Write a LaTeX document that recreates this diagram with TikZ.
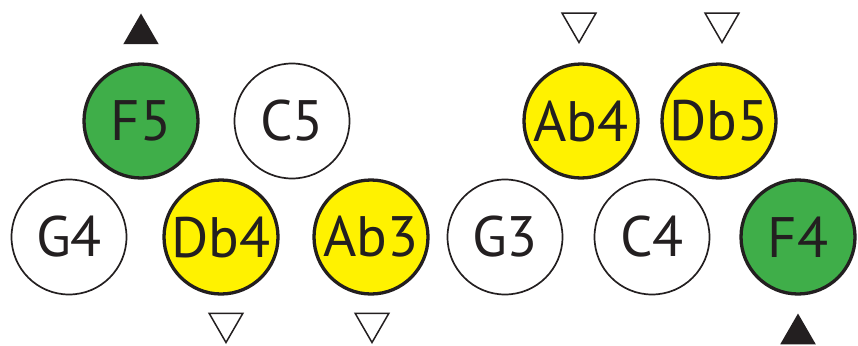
\documentclass[tikz,border=0pt]{standalone}
\usepackage{fontspec}
\setmainfont{PT Sans}
\usetikzlibrary{shapes.geometric}
\definecolor{ink}{HTML}{231F20}
\definecolor{notegreen}{HTML}{3FAE49}
\definecolor{noteyellow}{HTML}{FFF200}
\tikzset{
  note/.style={circle, draw=ink, line width=1.7pt, minimum size=115pt, inner sep=0pt,
    text=ink, font=\fontsize{57}{66}\selectfont},
  held/.style={note, line width=3.3pt, minimum size=114pt, fill=notegreen},
  moved/.style={note, line width=3.3pt, minimum size=114pt, fill=noteyellow},
  upmark/.style={regular polygon, regular polygon sides=3, minimum size=41pt, inner sep=0pt, fill=ink},
  downmark/.style={regular polygon, regular polygon sides=3, shape border rotate=180,
    minimum size=39pt, inner sep=0pt, draw=ink, line width=1.5pt}
}
\begin{document}
\begin{tikzpicture}[x=1pt, y=-1pt]
\useasboundingbox (0,0) rectangle (858,345);

% Define nodes
\node[held] (F5) at (141, 121) {F5};
\node[note] (C5) at (292, 121) {C5};
\node[note] (G4) at (69, 237) {G4};
\node[moved] (Db4) at (221, 237) {Db4};
\node[moved] (Ab3) at (371, 237) {Ab3};

\node[moved] (Ab4) at (581, 121) {Ab4};
\node[moved] (Db5) at (719, 121) {Db5};
\node[note] (G3) at (505, 237) {G3};
\node[note] (C4) at (652, 237) {C4};
\node[held] (F4) at (798, 237) {F4};

% Marks
\node[upmark] (upF5) at (141, 34) {};
\node[downmark] (downDb4) at (226, 323) {};
\node[downmark] (downAb3) at (372, 323) {};
\node[downmark] (downAb4) at (579, 23) {};
\node[downmark] (downDb5) at (722, 23) {};
\node[upmark] (upF4) at (798, 334) {};
\end{tikzpicture}
\end{document}
